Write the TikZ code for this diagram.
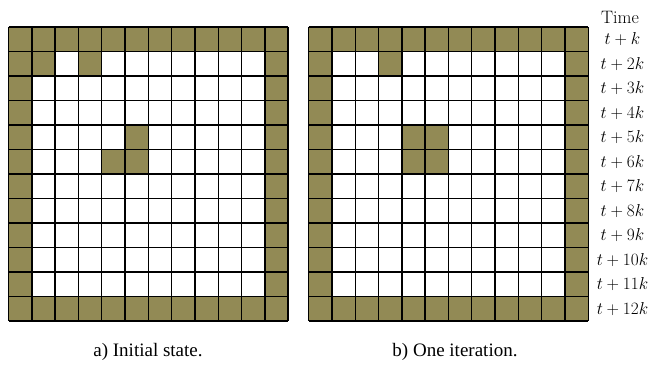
\documentclass[tikz,border=0pt]{standalone}
\usepackage{fontspec}
\newfontfamily\capfont{Liberation Serif}
\definecolor{cellfill}{RGB}{146,138,85}
\begin{document}
\begin{tikzpicture}[x=1pt,y=-1pt,
  gridline/.style={draw=black,line width=1.4pt},
  timelbl/.style={font=\fontsize{18}{21}\selectfont,anchor=center,inner sep=0pt},
  caplbl/.style={font=\capfont\fontsize{19}{22}\selectfont,anchor=base,inner sep=0pt}]
\useasboundingbox (0,0) rectangle (657,370);
\def\cw{23.3}
\def\ch{24.5}
% left grid
\begin{scope}[shift={(8.5,27)}]
  \foreach \i in {0,...,11} {
    \fill[cellfill] (\i*\cw,0) rectangle ++(\cw,\ch);
    \fill[cellfill] (\i*\cw,11*\ch) rectangle ++(\cw,\ch);
    \fill[cellfill] (0,\i*\ch) rectangle ++(\cw,\ch);
    \fill[cellfill] (11*\cw,\i*\ch) rectangle ++(\cw,\ch);
  }
  \foreach \c/\r in {1/1,3/1,5/4,4/5,5/5}
    \fill[cellfill] (\c*\cw,\r*\ch) rectangle ++(\cw,\ch);
  \foreach \i in {0,...,12} {
    \draw[gridline] (\i*\cw,0) -- (\i*\cw,12*\ch);
    \draw[gridline] (0,\i*\ch) -- (12*\cw,\i*\ch);
  }
\end{scope}
% right grid
\begin{scope}[shift={(308.6,27)}]
  \foreach \i in {0,...,11} {
    \fill[cellfill] (\i*\cw,0) rectangle ++(\cw,\ch);
    \fill[cellfill] (\i*\cw,11*\ch) rectangle ++(\cw,\ch);
    \fill[cellfill] (0,\i*\ch) rectangle ++(\cw,\ch);
    \fill[cellfill] (11*\cw,\i*\ch) rectangle ++(\cw,\ch);
  }
  \foreach \c/\r in {3/1,4/4,5/4,4/5,5/5}
    \fill[cellfill] (\c*\cw,\r*\ch) rectangle ++(\cw,\ch);
  \foreach \i in {0,...,12} {
    \draw[gridline] (\i*\cw,0) -- (\i*\cw,12*\ch);
    \draw[gridline] (0,\i*\ch) -- (12*\cw,\i*\ch);
  }
\end{scope}
% time labels
\node[timelbl] (time) at (620,17) {Time};
\node[timelbl] (t1) at (622.5,27+0.5*\ch) {$t+k$};
\foreach \n in {2,...,12}
  \node[timelbl] (t\n) at (622.5,27+\n*\ch-0.5*\ch) {$t+\n k$};
% captions
\node[caplbl] (capa) at (148,356) {a) Initial state.};
\node[caplbl] (capb) at (455,356) {b) One iteration.};
\end{tikzpicture}
\end{document}
